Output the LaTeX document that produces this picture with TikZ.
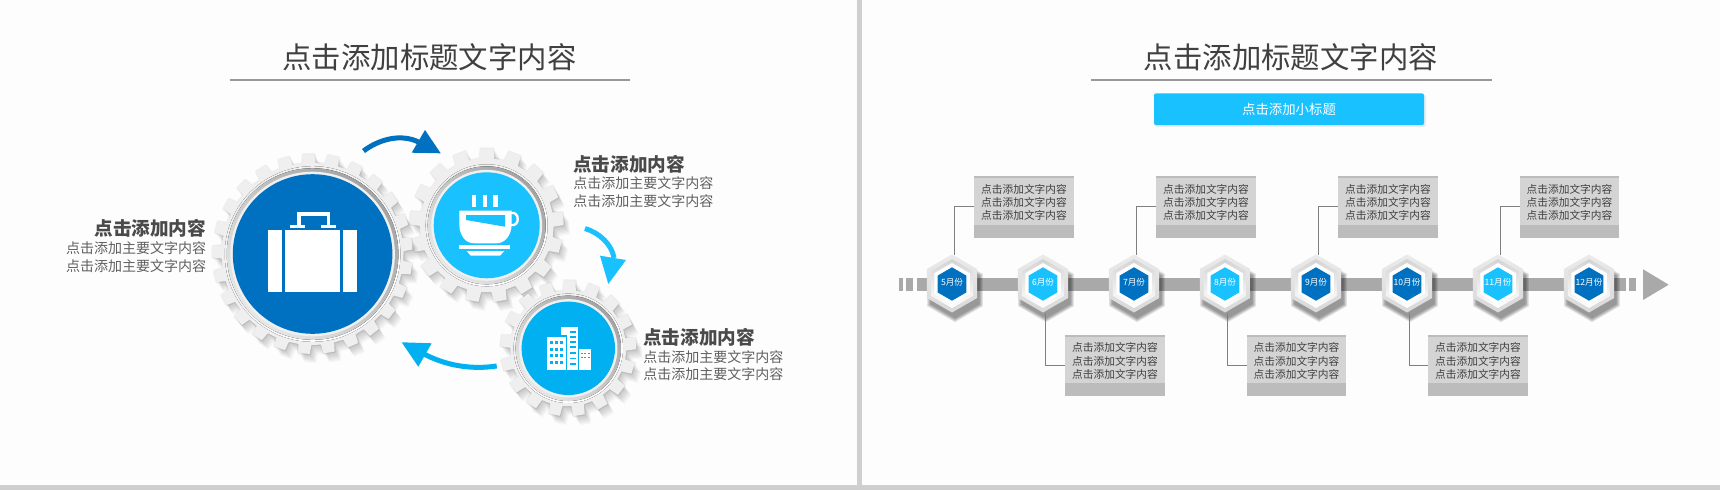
\documentclass[tikz,border=0pt]{standalone}
\usepackage{fontspec}
\setmainfont{Noto Sans CJK SC}
\usetikzlibrary{shapes.geometric,calc}
\definecolor{bgc}{HTML}{FDFDFD}
\definecolor{divc}{HTML}{CFCFCF}
\definecolor{darkb}{HTML}{0070C0}
\definecolor{lightb}{HTML}{19C1FF}
\definecolor{midb}{HTML}{00B0F0}
\definecolor{barc}{HTML}{A9A9A9}
\definecolor{boxc}{HTML}{D4D4D4}
\definecolor{stripc}{HTML}{BCBCBC}
\definecolor{ttlc}{HTML}{404040}
\definecolor{headc}{HTML}{4A4A4A}
\definecolor{subc}{HTML}{606060}
\definecolor{gearc}{HTML}{EFEFEF}
\colorlet{HTMLrule}{black!40}
\tikzset{
  x=1pt,y=-1pt,
  every node/.style={inner sep=0pt,outer sep=0pt},
  titletext/.style={text=ttlc,font=\fontsize{29.4}{32}\selectfont},
  rulel/.style={draw=HTMLrule,line width=1.2pt},
  headt/.style={text=headc,font=\fontsize{18.6}{22}\bfseries\selectfont},
  bodyt/.style={text=subc,font=\fontsize{14}{17.6}\selectfont},
  boxt/.style={text=ttlc,align=center,font=\fontsize{10.7}{13.1}\selectfont},
  tbox/.style={rectangle,fill=boxc,minimum width=99.5pt,minimum height=61.5pt},
  conn/.style={draw=black!50,line width=0.9pt},
  barl/.style={draw=barc,line width=12.4pt},
  hexs/.style={regular polygon,regular polygon sides=6,shape border rotate=30},
  monthl/.style={text=white,font=\fontsize{8.6}{10}\selectfont},
}
% path of a gear
\newcommand\gearfill[5]{% options, tip, root, teeth, phase
  \path[#1] ({#5-0.29*360/#4}:#3)
    \foreach \i in {0,...,\numexpr#4-1\relax}{
      -- ({#5+(\i-0.29)*360/#4}:#3)
      -- ({#5+(\i-0.225)*360/#4}:#2)
      -- ({#5+(\i+0.225)*360/#4}:#2)
      -- ({#5+(\i+0.29)*360/#4}:#3)
    } -- cycle;
}
\newcommand\gearnode[9]{% name,x,y,tip,root,teeth,phase,r,colour
  \foreach \k in {1,...,8}{
    \gearfill{fill=black,fill opacity=.028,shift={(#2+\k*0.8,#3+\k*1.15)}}{#4}{#5}{#6}{#7}
  }
  \gearfill{fill=black,fill opacity=.05,draw=black,draw opacity=.05,line width=2.5pt,line join=round,shift={(#2,#3)}}{#4}{#5}{#6}{#7}
  \gearfill{fill=gearc,shift={(#2,#3)}}{#4}{#5}{#6}{#7}
  \fill[shift={(#2,#3)},top color=gearc,bottom color=white,shading angle=45] (0,0) circle[radius=#8+8];
  \fill[shift={(#2,#3)},left color=black!36,right color=black!9,shading angle=-45] (0,0) circle[radius=#8+6];
  \fill[shift={(#2,#3)},fill=black!6] (0,0) circle[radius=#8+2.5];
  \node[circle,fill=#9,minimum size=2*#8*1pt] (#1) at (#2,#3) {};
}
\newcommand\hexmonth[4]{% name,x,colour,label
  \foreach \k in {1,...,6}{
    \node[hexs,fill=black,fill opacity=.08,minimum size=55pt+\k*1.6pt] at (#2+3,290) {};
  }
  \node[hexs,top color=black!8,bottom color=black!15,minimum size=58pt] (#1) at (#2,283.5) {};
  \node[hexs,top color=black!17,bottom color=white,minimum size=49pt] (#1r) at (#2,283.5) {};
  \node[hexs,fill=white,minimum size=41pt] (#1w) at (#2,283.5) {};
  \node[hexs,fill=#3,minimum size=33.4pt] (#1c) at (#2,284) {};
  \node[monthl] (#1t) at (#2,282.7) {#4};
}
\newcommand\infobox[3]{% name,x,y (centre)
  \node[tbox] (#1) at (#2,#3) {};
  \fill[stripc] (#1.south west) rectangle ($(#1.south east)+(0,-13)$);
  \fill[stripc] (#1.north west) rectangle ($(#1.north east)+(0,2)$);
  \node[boxt] (#1t) at ($(#1)+(0,-4.5)$) {点击添加文字内容\\点击添加文字内容\\点击添加文字内容};
}
\begin{document}
\begin{tikzpicture}
\useasboundingbox (0,0) rectangle (1720,490);
\fill[bgc] (0,0) rectangle (1720,490);
\fill[divc] (857,0) rectangle (862,490);
\fill[divc] (0,485) rectangle (1720,490);
% ---------- titles
\node[titletext] (t1) at (429.5,57.5) {点击添加标题文字内容};
\coordinate (r1a) at (229.5,80); \coordinate (r1b) at (630,80);
\draw[rulel] (r1a) -- (r1b);
\node[titletext] (t2) at (1290.8,57.5) {点击添加标题文字内容};
\coordinate (r2a) at (1091,80); \coordinate (r2b) at (1492,80);
\draw[rulel] (r2a) -- (r2b);
% ---------- gears
\gearnode{g2}{486.7}{225.3}{77}{67}{17}{16.2}{53}{lightb}
\gearnode{g1}{312.6}{254}{100}{91}{25}{8.5}{79.8}{darkb}
\gearnode{g3}{568.3}{348.3}{68}{58}{17}{17.2}{46.7}{midb}
% suitcase
\fill[white] (268.3,229.7) rectangle (282.3,291.7);
\fill[white] (285.3,229.7) rectangle (340,291.7);
\fill[white] (343.3,229.7) rectangle (356.7,291.7);
\fill[white] (290,225) rectangle (305,227.7);
\fill[white] (321,225) rectangle (335.7,227.7);
\draw[white,line width=3.2pt] (299,226) -- (299,214) -- (328.3,214) -- (328.3,226);
% cup
\fill[white] (472,195) rectangle (476,206.7);
\fill[white] (483.3,195) rectangle (487.3,206.7);
\fill[white] (493.3,195) rectangle (497.7,206.7);
\fill[white] (459.3,210.7) -- (511.7,210.7) -- (511.7,224)
  .. controls (511.7,236) and (504,243.3) .. (497,243.3) -- (474,243.3)
  .. controls (466,243.3) and (459.3,236) .. (459.3,224) -- cycle;
\fill[lightb] (466,215) -- (505,215) -- (505,226.7) -- (466,220) -- cycle;
\draw[white,line width=2.4pt] (511,213) .. controls (520,211) and (520,227) .. (511,225);
\fill[white] (459.3,245) rectangle (510,249.3);
\fill[white] (466.7,251) -- (504.3,251) -- (500,255.7) -- (470.7,255.7) -- cycle;
% buildings
\fill[white] (560.7,327) rectangle (577.7,335);
\fill[white] (567.3,327) rectangle (577.7,369.7);
\fill[white] (547,336.7) rectangle (565.7,369.7);
\fill[white] (579,349) rectangle (591,369.7);
\foreach \a in {549.7,555,560}{\foreach \b in {341,347.7,354.3,361}{\fill[midb] (\a,\b) rectangle +(3,3);}}
\foreach \b in {331,336,341,346,352,357.7,363}{\fill[midb] (569.5,\b) rectangle +(6,1.7);}
\foreach \a in {581,584.3,587.7}{\foreach \b in {352.5,356.5}{\fill[midb] (\a,\b) rectangle +(1.9,1.9);}}
% ---------- cycle arrows
\coordinate (a1s) at (363.5,151); \coordinate (a1e) at (418.5,142);
\draw[darkb,line width=5pt] (a1s) .. controls (378,140) and (400,133) .. (a1e);
\fill[darkb] (425,130) -- (440.7,153.3) -- (411.7,152.7) -- cycle;
\coordinate (a2s) at (585,228.5); \coordinate (a2e) at (614,258);
\draw[lightb,line width=5pt] (a2s) .. controls (600,233) and (612,245) .. (a2e);
\fill[lightb] (600,255.7) -- (626,260) -- (608.3,284) -- cycle;
\coordinate (a3s) at (496.7,366); \coordinate (a3e) at (424,354);
\draw[midb,line width=5pt] (a3s) .. controls (470,370) and (445,365) .. (a3e);
\fill[midb] (401.7,342.3) -- (431.7,343.3) -- (418.3,366.7) -- cycle;
% ---------- left texts
\node[headt,anchor=east] (l1h) at (206,228.5) {点击添加内容};
\node[bodyt,anchor=north east,align=right] (l1b) at (206,242) {点击添加主要文字内容\\点击添加主要文字内容};
\node[headt,anchor=west] (l2h) at (573.3,164) {点击添加内容};
\node[bodyt,anchor=north west,align=left] (l2b) at (573.3,177) {点击添加主要文字内容\\点击添加主要文字内容};
\node[headt,anchor=west] (l3h) at (643.3,337.3) {点击添加内容};
\node[bodyt,anchor=north west,align=left] (l3b) at (643.3,350.5) {点击添加主要文字内容\\点击添加主要文字内容};
% ---------- button
\fill[black,opacity=.07,rounded corners=2pt] (1155,95) rectangle (1426,127);
\node[rectangle,rounded corners=2pt,fill=lightb,minimum width=270pt,minimum height=31.7pt,text=white,font=\fontsize{13.4}{16}\selectfont] (btn) at (1289,109.2) {点击添加小标题};
% ---------- timeline
\coordinate (hS) at (916.7,284.5);
\coordinate (hE) at (1626,284.5);
\fill[barc] (899.3,278.3) rectangle (903.3,290.7);
\fill[barc] (906,278.3) rectangle (913,290.7);
\fill[barc] (1628.7,278.3) rectangle (1636,290.7);
\fill[barc] (1643,269.3) -- (1668.7,284.7) -- (1643,300) -- cycle;
\coordinate (m5) at (952,284.5);  \coordinate (m6) at (1043,284.5);
\coordinate (m7) at (1134,284.5); \coordinate (m8) at (1225,284.5);
\coordinate (m9) at (1316,284.5); \coordinate (m10) at (1407,284.5);
\coordinate (m11) at (1498,284.5);\coordinate (m12) at (1589,284.5);
\draw[barl] (hS) -- (m5) -- (m6) -- (m7) -- (m8) -- (m9) -- (m10) -- (m11) -- (m12) -- (hE);
\hexmonth{h5}{952}{darkb}{5月份}
\hexmonth{h6}{1043}{lightb}{6月份}
\hexmonth{h7}{1134}{darkb}{7月份}
\hexmonth{h8}{1225}{lightb}{8月份}
\hexmonth{h9}{1316}{darkb}{9月份}
\hexmonth{h10}{1407}{darkb}{10月份}
\hexmonth{h11}{1498}{lightb}{11月份}
\hexmonth{h12}{1589}{darkb}{12月份}
\infobox{b5}{1024}{206.8}
\infobox{b7}{1206}{206.8}
\infobox{b9}{1388}{206.8}
\infobox{b11}{1569.5}{206.8}
\infobox{b6}{1115}{365.5}
\infobox{b8}{1296.5}{365.5}
\infobox{b10}{1478}{365.5}
\draw[conn] ([xshift=2pt]h5.north) |- (b5.west);
\draw[conn] ([xshift=2pt]h7.north) |- (b7.west);
\draw[conn] ([xshift=2pt]h9.north) |- (b9.west);
\draw[conn] ([xshift=2pt]h11.north) |- (b11.west);
\draw[conn] ([xshift=2pt]h6.south) |- (b6.west);
\draw[conn] ([xshift=2pt]h8.south) |- (b8.west);
\draw[conn] ([xshift=2pt]h10.south) |- (b10.west);
\end{tikzpicture}
\end{document}
